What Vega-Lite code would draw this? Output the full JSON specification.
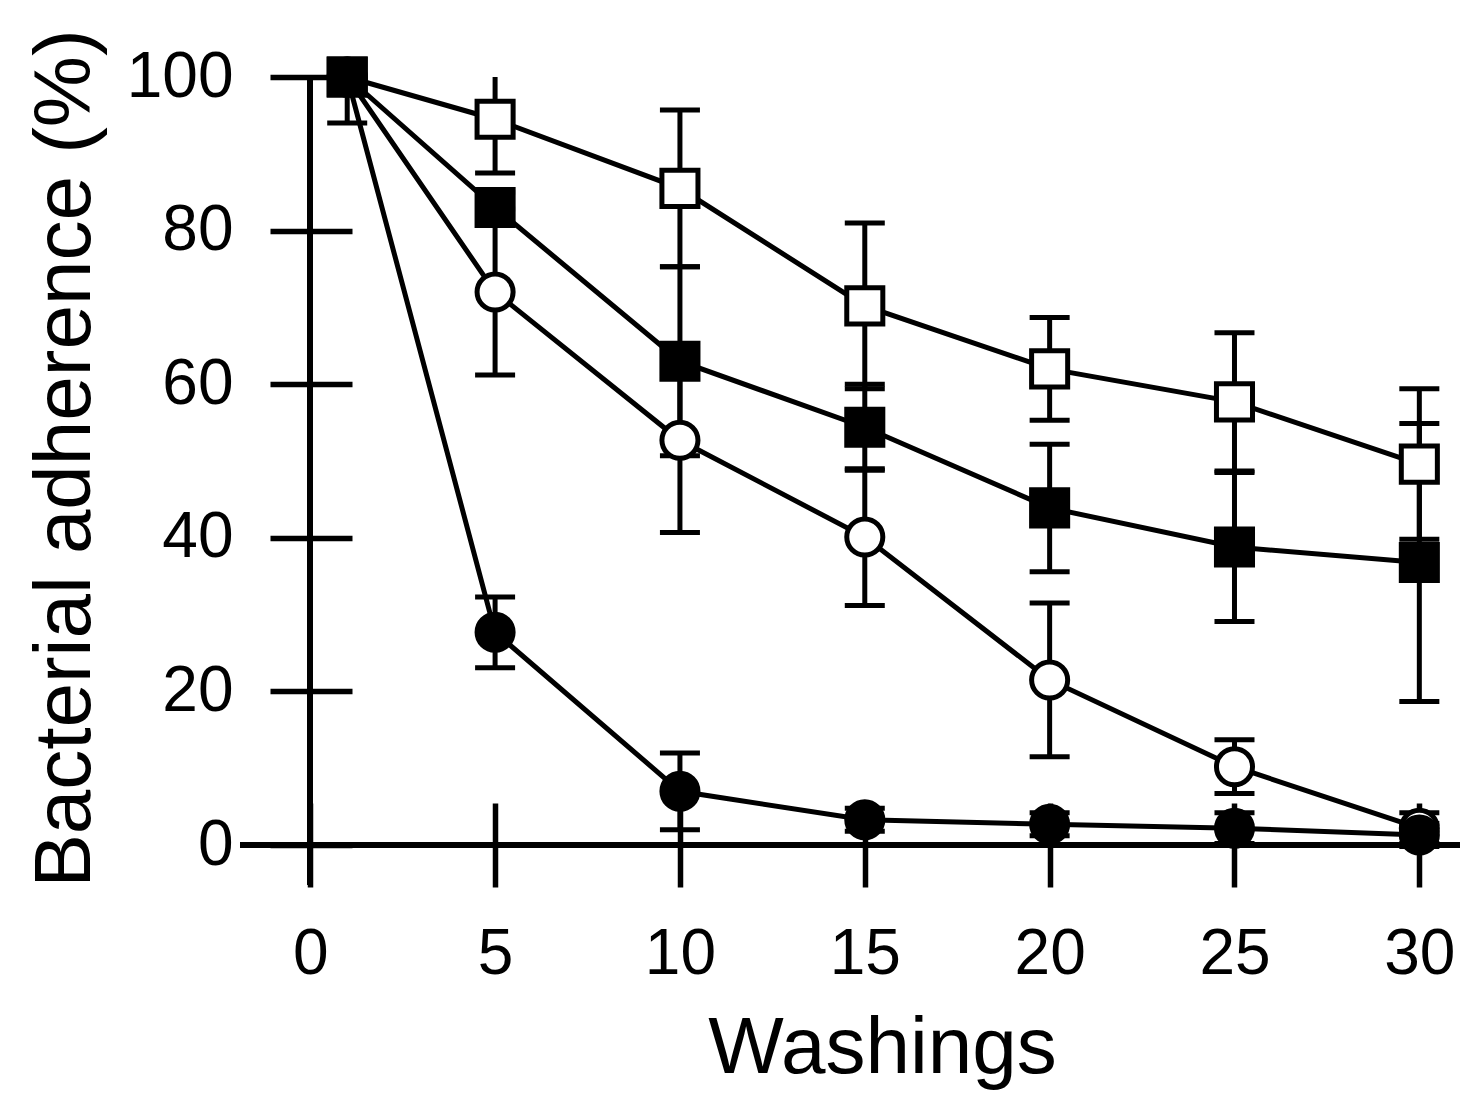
{
  "$schema": "https://vega.github.io/schema/vega-lite/v6.json",
  "width": 1220,
  "height": 808,
  "autosize": {"type": "none"},
  "padding": {"left": 240, "top": 77, "right": 20, "bottom": 215},
  "background": "white",
  "config": {"view": {"stroke": null}},
  "data": {
    "values": [
      {"series": "open square", "w": 1, "v": 100, "err": 0},
      {"series": "open square", "w": 5, "v": 94.5, "err": 7},
      {"series": "open square", "w": 10, "v": 85.5, "err": 10.2},
      {"series": "open square", "w": 15, "v": 70.2, "err": 10.8},
      {"series": "open square", "w": 20, "v": 62, "err": 6.7},
      {"series": "open square", "w": 25, "v": 57.7, "err": 9},
      {"series": "open square", "w": 30, "v": 49.6, "err": 9.8},
      {"series": "filled square", "w": 1, "v": 100, "err": 0},
      {"series": "filled square", "w": 5, "v": 83, "err": 2},
      {"series": "filled square", "w": 10, "v": 63, "err": 12.3},
      {"series": "filled square", "w": 15, "v": 54.4, "err": 5.6},
      {"series": "filled square", "w": 20, "v": 43.9, "err": 8.3},
      {"series": "filled square", "w": 25, "v": 38.8, "err": 9.7},
      {"series": "filled square", "w": 30, "v": 36.8, "err": 18.1},
      {"series": "open circle", "w": 1, "v": 100, "err": 0},
      {"series": "open circle", "w": 5, "v": 72, "err": 10.8},
      {"series": "open circle", "w": 10, "v": 52.7, "err": 12},
      {"series": "open circle", "w": 15, "v": 40.1, "err": 8.9},
      {"series": "open circle", "w": 20, "v": 21.5, "err": 10},
      {"series": "open circle", "w": 25, "v": 10.2, "err": 3.5},
      {"series": "open circle", "w": 30, "v": 2.2, "err": 2},
      {"series": "filled circle", "w": 1, "v": 100, "err": 6},
      {"series": "filled circle", "w": 5, "v": 27.7, "err": 4.6},
      {"series": "filled circle", "w": 10, "v": 7, "err": 5},
      {"series": "filled circle", "w": 15, "v": 3.3, "err": 1.5},
      {"series": "filled circle", "w": 20, "v": 2.7, "err": 1.5},
      {"series": "filled circle", "w": 25, "v": 2.2, "err": 2},
      {"series": "filled circle", "w": 30, "v": 1.3, "err": 1.5}
    ]
  },
  "layer": [
    {
      "mark": {"type": "rule", "color": "black", "strokeWidth": 5.5},
      "encoding": {
        "y": {"datum": 0, "type": "quantitative", "scale": {"domain": [-5.2, 100], "nice": false, "zero": false}}
      }
    },
    {
      "mark": {"type": "rule", "color": "black", "strokeWidth": 5.5},
      "encoding": {
        "x": {"datum": 0, "type": "quantitative", "scale": {"domain": [-1.9, 31.1], "nice": false, "zero": false}}
      }
    },
    {
      "mark": {"type": "line", "color": "black", "strokeWidth": 5},
      "encoding": {
        "x": {"field": "w", "type": "quantitative", "title": "Washings", "scale": {"domain": [-1.9, 31.1], "nice": false, "zero": false}},
        "y": {"field": "v", "type": "quantitative", "title": "Bacterial adherence (%)", "scale": {"domain": [-5.2, 100], "nice": false, "zero": false}},
        "detail": {"field": "series"}
      }
    },
    {
      "mark": {
        "type": "errorbar", "color": "black", "thickness": 5, "size": 40, "clip": true,
        "rule": {"color": "black", "opacity": 1},
        "ticks": {"color": "black", "opacity": 1}
      },
      "encoding": {
        "x": {"field": "w", "type": "quantitative", "title": "Washings", "scale": {"domain": [-1.9, 31.1], "nice": false, "zero": false}},
        "y": {"field": "v", "type": "quantitative", "title": "Bacterial adherence (%)", "scale": {"domain": [-5.2, 100], "nice": false, "zero": false}},
        "yError": {"field": "err"}
      }
    },
    {
      "mark": {"type": "point", "filled": true, "stroke": "black", "strokeWidth": 5, "opacity": 1},
      "encoding": {
        "x": {
          "field": "w", "type": "quantitative", "title": "Washings",
          "scale": {"domain": [-1.9, 31.1], "nice": false, "zero": false},
          "axis": {
            "values": [0, 5, 10, 15, 20, 25, 30],
            "offset": -82, "tickSize": 84, "tickWidth": 5.5, "tickColor": "black",
            "domain": false, "grid": false,
            "labelFont": "Liberation Sans", "labelFontSize": 64, "labelColor": "black",
            "labelBaseline": "alphabetic", "labelPadding": 86,
            "titleFont": "Liberation Sans", "titleFontSize": 80, "titleFontWeight": "normal", "titleColor": "black",
            "titleX": 642, "titleY": 269, "titleBaseline": "alphabetic"
          }
        },
        "y": {
          "field": "v", "type": "quantitative", "title": "Bacterial adherence (%)",
          "scale": {"domain": [-5.2, 100], "nice": false, "zero": false},
          "axis": {
            "values": [0, 20, 40, 60, 80, 100],
            "offset": -112, "tickSize": 82, "tickWidth": 5.5, "tickColor": "black",
            "domain": false, "grid": false,
            "labelFont": "Liberation Sans", "labelFontSize": 64, "labelColor": "black",
            "labelPadding": 37,
            "titleFont": "Liberation Sans", "titleFontSize": 80, "titleFontWeight": "normal", "titleColor": "black",
            "titleX": -263, "titleY": 381, "titleBaseline": "alphabetic"
          }
        },
        "shape": {
          "field": "series", "type": "nominal",
          "scale": {"domain": ["open square", "filled square", "open circle", "filled circle"], "range": ["square", "square", "circle", "circle"]},
          "legend": null
        },
        "fill": {
          "field": "series", "type": "nominal",
          "scale": {"domain": ["open square", "filled square", "open circle", "filled circle"], "range": ["white", "black", "white", "black"]},
          "legend": null
        },
        "size": {"value": 1300}
      }
    }
  ]
}
